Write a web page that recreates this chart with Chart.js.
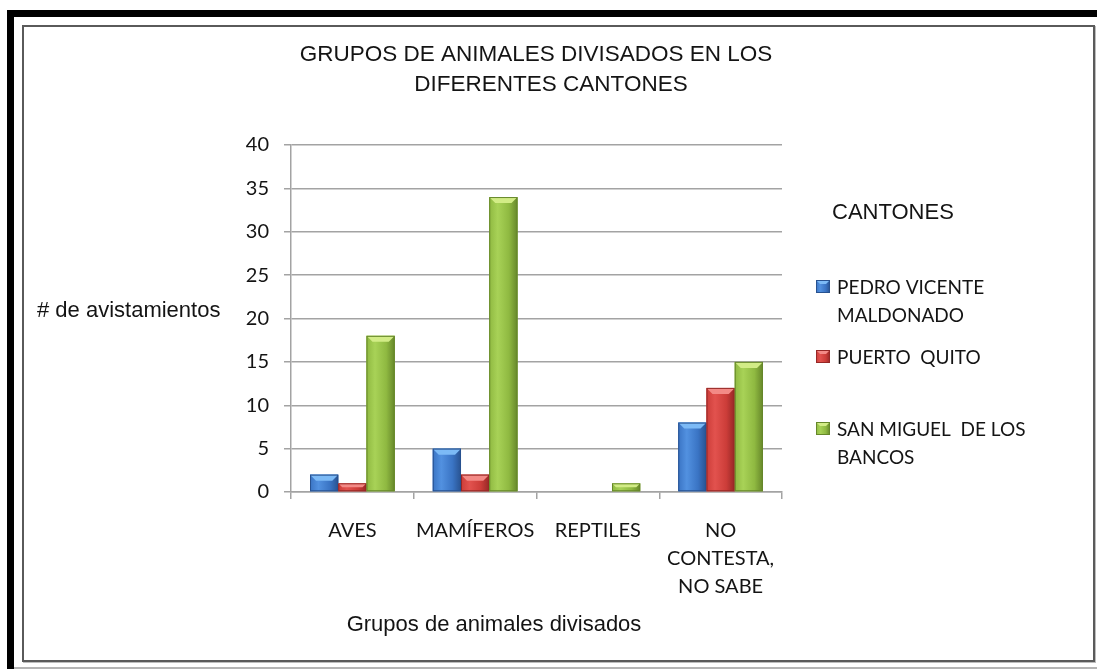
<!DOCTYPE html>
<html>
<head>
<meta charset="utf-8">
<title>Grupos de animales divisados</title>
<script src="https://cdn.jsdelivr.net/npm/chart.js@4.4.1/dist/chart.umd.min.js"></script>
<style>
  html, body { margin: 0; padding: 0; background: #fff; }
  body { width: 1097px; height: 669px; position: relative; overflow: hidden; }
  .band-top { position: absolute; left: 7px; top: 10px; right: 0; height: 7px; background: #000; }
  .band-left { position: absolute; left: 7px; top: 10px; bottom: 0; width: 7px; background: #000; }
  .band-bottom { position: absolute; left: 14px; right: 0; top: 667px; height: 2px; background: #b4b4b4; }
  .inner { position: absolute; left: 22px; top: 25px; width: 1069px; height: 633px;
           border: 2px solid #5a5a5a; box-shadow: 1px 1px 0 #bdbdbd; }
  #chart { position: absolute; left: 0; top: 0; }
</style>
</head>
<body>
<div class="band-top"></div>
<div class="band-left"></div>
<div class="band-bottom"></div>
<div class="inner"></div>
<canvas id="chart" width="1097" height="669"></canvas>
<script>
  // ---- Data ----
  const categories = ['AVES', 'MAMÍFEROS', 'REPTILES', ['NO', 'CONTESTA,', 'NO SABE']];
  const pedroVicente = [2, 5, 0, 8];
  const puertoQuito = [1, 2, 0, 12];
  const sanMiguel = [18, 34, 1, 15];
  const seriesNames = [['PEDRO VICENTE', 'MALDONADO'], ['PUERTO  QUITO'], ['SAN MIGUEL  DE LOS', 'BANCOS']];
  const yTicks = [0, 5, 10, 15, 20, 25, 30, 35, 40];

  const titleLines = ['GRUPOS DE ANIMALES DIVISADOS EN LOS', 'DIFERENTES CANTONES'];
  const yTitle = '# de avistamientos';
  const xTitle = 'Grupos de animales divisados';
  const legendTitle = 'CANTONES';

  // Office 2007 style colours: base, light, dark, bevel
  const SHADES = [
    { base: '#3a74c4', light: '#5291e0', dark: '#285290', bevel: '#7cbaf6' },
    { base: '#cc3d39', light: '#e2524e', dark: '#962826', bevel: '#f38a86' },
    { base: '#8fb941', light: '#a8d257', dark: '#66872a', bevel: '#d2ec86' }
  ];

  const SANS = '"Liberation Sans", Arial, sans-serif';
  const CALI = 'Lato, "Open Sans", sans-serif';
  const INK = '#141414';
  const GRID = '#a3a3a3';

  function fillBevelRect(ctx, left, top, w, h, shade, bevel) {
    const g = ctx.createLinearGradient(left, 0, left + w, 0);
    g.addColorStop(0, shade.base);
    g.addColorStop(0.3, shade.light);
    g.addColorStop(0.7, shade.base);
    g.addColorStop(1, shade.dark);
    ctx.fillStyle = g;
    ctx.fillRect(left, top, w, h);
    const b = Math.min(bevel, h / 2, w / 2);
    if (b < 1) return;
    ctx.fillStyle = shade.bevel;
    ctx.beginPath();
    ctx.moveTo(left, top);
    ctx.lineTo(left + w, top);
    ctx.lineTo(left + w - b, top + b);
    ctx.lineTo(left + b, top + b);
    ctx.closePath();
    ctx.fill();
    ctx.strokeStyle = shade.dark;
    ctx.lineWidth = 1;
    ctx.strokeRect(left + 0.5, top + 0.5, w - 1, h - 1);
  }

  // Paint each bar with the shaded look, using the element geometry from Chart.js
  const shadedBars = {
    id: 'shadedBars',
    afterDatasetsDraw(chart) {
      const ctx = chart.ctx;
      ctx.save();
      chart.data.datasets.forEach((ds, di) => {
        const meta = chart.getDatasetMeta(di);
        meta.data.forEach(el => {
          const { x, y, base, width } = el.getProps(['x', 'y', 'base', 'width'], true);
          const h = base - y;
          if (h < 0.5) return;
          fillBevelRect(ctx, x - width / 2, y, width, h, SHADES[di], 6);
        });
      });
      ctx.restore();
    }
  };

  // Title, axis titles and the legend block
  const textBits = {
    id: 'textBits',
    afterDraw(chart) {
      const ctx = chart.ctx;
      const area = chart.chartArea;
      ctx.save();
      ctx.fillStyle = INK;
      ctx.textBaseline = 'middle';

      ctx.font = '22.5px ' + SANS;
      ctx.textAlign = 'center';
      ctx.fillText(titleLines[0], 536, 55);
      ctx.fillText(titleLines[1], 551, 85);

      ctx.font = '22px ' + SANS;
      ctx.textAlign = 'left';
      ctx.fillText(yTitle, 37, 311);

      ctx.textAlign = 'center';
      ctx.fillText(xTitle, 494, 625);

      ctx.textAlign = 'left';
      ctx.fillText(legendTitle, area.right + 50, 213);

      // legend entries
      const rows = [288, 358, 430];
      ctx.font = '19px ' + CALI;
      seriesNames.forEach((lines, i) => {
        fillBevelRect(ctx, area.right + 34, rows[i] - 8, 14, 13, SHADES[i], 4);
        ctx.fillStyle = INK;
        lines.forEach((t, k) => ctx.fillText(t, area.right + 55, rows[i] + k * 28));
      });
      ctx.restore();
    }
  };

  const datasets = [pedroVicente, puertoQuito, sanMiguel].map((vals, i) => ({
    label: seriesNames[i].join(' '),
    data: vals,
    backgroundColor: SHADES[i].base,
    borderWidth: 0,
    categoryPercentage: 0.69,
    barPercentage: 1.0
  }));

  new Chart(document.getElementById('chart'), {
    type: 'bar',
    data: { labels: categories, datasets },
    plugins: [shadedBars, textBits],
    options: {
      responsive: false,
      animation: false,
      layout: { padding: { left: 0, top: 145, right: 315, bottom: 0 } },
      plugins: {
        legend: { display: false },
        title: { display: false },
        tooltip: { enabled: false }
      },
      scales: {
        x: {
          afterFit: s => { s.height = 177; },
          grid: { display: true, drawOnChartArea: false, offset: true, color: GRID, lineWidth: 1.5, tickLength: 7 },
          border: { color: GRID, width: 1.5 },
          ticks: { color: INK, padding: 18, maxRotation: 0, autoSkip: false,
                   font: { family: CALI, size: 20, lineHeight: '28px' } }
        },
        y: {
          min: 0,
          max: 40,
          afterFit: s => { s.width = 291; },
          afterBuildTicks: s => { s.ticks = yTicks.map(v => ({ value: v })); },
          grid: { color: GRID, lineWidth: 1.5, tickLength: 7 },
          border: { color: GRID, width: 1.5 },
          ticks: { color: INK, padding: 15, font: { family: CALI, size: 20 } }
        }
      }
    }
  });
</script>
</body>
</html>
